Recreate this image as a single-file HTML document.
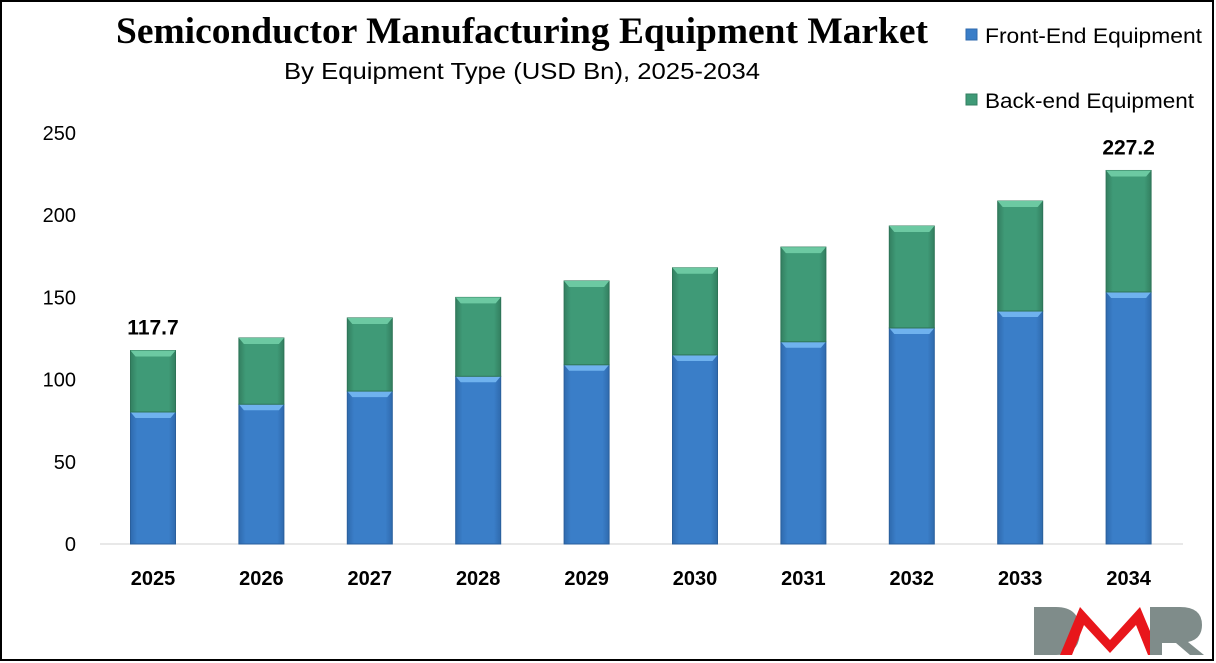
<!DOCTYPE html>
<html><head><meta charset="utf-8"><style>
body{margin:0;background:#fff}
#wrap{position:relative;width:1216px;height:663px;overflow:hidden;font-family:"Liberation Sans",sans-serif}
</style></head><body>
<div id="wrap">
<svg id="chart" width="1216" height="663">
<defs>
<linearGradient id="gb" x1="0" x2="1"><stop offset="0" stop-color="#2f6aae"/><stop offset="0.15" stop-color="#3a7ec8"/><stop offset="0.85" stop-color="#3a7ec8"/><stop offset="1" stop-color="#2f6aae"/></linearGradient>
<linearGradient id="gg" x1="0" x2="1"><stop offset="0" stop-color="#337f60"/><stop offset="0.15" stop-color="#3f9a77"/><stop offset="0.85" stop-color="#3f9a77"/><stop offset="1" stop-color="#337f60"/></linearGradient>
</defs>
<rect x="1" y="1" width="1212" height="659" fill="#fff" stroke="#000" stroke-width="2"/>
<text x="116" y="43" textLength="812" lengthAdjust="spacingAndGlyphs" font-family="Liberation Serif, serif" font-weight="bold" font-size="37" fill="#000">Semiconductor Manufacturing Equipment Market</text>
<text x="284" y="79" textLength="476" lengthAdjust="spacingAndGlyphs" font-size="23" fill="#000">By Equipment Type (USD Bn), 2025-2034</text>
<g>
<rect x="966" y="29" width="11" height="11" fill="#3a7ec8" stroke="#2f6aae"/>
<text x="985" y="43" textLength="217" lengthAdjust="spacingAndGlyphs" font-size="21" fill="#000">Front-End Equipment</text>
<rect x="966" y="94" width="11" height="11" fill="#3f9a77" stroke="#337f60"/>
<text x="985" y="108" textLength="209" lengthAdjust="spacingAndGlyphs" font-size="21" fill="#000">Back-end Equipment</text>
</g>
<g id="axes"></g>
<g id="bars"></g>
<g>
<path d="M1034 607 h22 q24 0 24 24 q0 24 -24 24 h-22 z" fill="#7f8c8a"/>
<path d="M1060 655 L1080 607 L1110 640 L1140 607 L1160 655 h-12 l-12 -30 l-26 28 l-26 -28 l-12 30 z" fill="#e8161b"/>
<path d="M1150 607 h30 q22 0 22 18 q0 14 -14 17 l16 13 h-14 l-14 -12 h-14 v12 h-12 z" fill="#7f8c8a"/>
</g>
</svg>
</div>
<script>
const years=["2025","2026","2027","2028","2029","2030","2031","2032","2033","2034"];
const frontEnd=[80.3,85,93,102,109,115,123,131.4,141.7,153.3];
const backEnd=[37.4,40.3,44.5,48,51,53,57.6,62,66.9,73.9];
const yTicks=[0,50,100,150,200,250];
const totalLabels={"2025":"117.7","2034":"227.2"};
const NS="http://www.w3.org/2000/svg";
const y0=544,pxPer=411/250;
function yScale(v){return y0-v*pxPer;}
function xScale(i){return 153+i*108.4;}
function mk(t,a,p){const e=document.createElementNS(NS,t);for(const k in a)e.setAttribute(k,a[k]);p.appendChild(e);return e;}
const axes=document.getElementById('axes'),bars=document.getElementById('bars');
const base=mk('line',{x1:100,x2:1183,y1:y0,y2:y0,stroke:'#d0d0d0','stroke-width':1},axes);


yTicks.forEach(t=>{const tx=mk('text',{x:76,y:yScale(t)+7,'text-anchor':'end','font-size':20,fill:'#000'},axes);tx.textContent=t;

});
years.forEach((yr,i)=>{
const cx=xScale(i),w=45,x=cx-w/2;
const ft=yScale(frontEnd[i]),tt=yScale(frontEnd[i]+backEnd[i]);
const g=mk('g',{},bars);


const r1=mk('rect',{x:x,y:ft,width:w,height:y0-ft,fill:'url(#gb)',stroke:'#2a5f9c','stroke-width':1},g);


mk('polygon',{points:`${x},${ft} ${x+w},${ft} ${x+w-5},${ft+6} ${x+5},${ft+6}`,fill:'#6fb2ee'},g);
const r2=mk('rect',{x:x,y:tt,width:w,height:ft-tt,fill:'url(#gg)',stroke:'#2e7457','stroke-width':1},g);


mk('polygon',{points:`${x},${tt} ${x+w},${tt} ${x+w-5},${tt+6} ${x+5},${tt+6}`,fill:'#6cc9a2'},g);
const lb=mk('text',{x:cx,y:585,'text-anchor':'middle','font-size':20,'font-weight':'bold',fill:'#000'},axes);lb.textContent=yr;


if(totalLabels[yr]){const v=mk('text',{x:cx,y:tt-16,'text-anchor':'middle','font-size':21,'font-weight':'bold',fill:'#000'},axes);v.textContent=totalLabels[yr];

}
});
</script>
</body></html>
